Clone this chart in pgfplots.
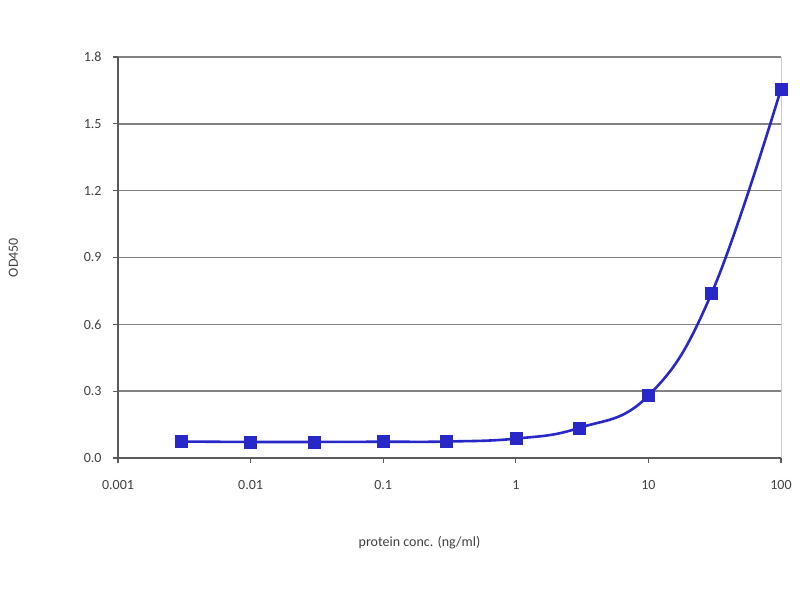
\documentclass[border=0pt]{standalone}
\usepackage{pgfplots}
\pgfplotsset{compat=1.18}
\usepackage{fontspec}
\setmainfont{Carlito}
\definecolor{ser}{RGB}{40,40,200}
\definecolor{gridc}{RGB}{130,130,130}
\definecolor{axc}{RGB}{90,90,90}
\begin{document}
\begin{tikzpicture}
\path[use as bounding box] (0,0) rectangle (800pt,600pt);
\begin{axis}[
  at={(118pt,142pt)}, anchor=south west,
  width=663pt, height=401pt, scale only axis,
  xmode=log, xmin=0.001, xmax=100,
  ymin=0, ymax=1.8,
  ytick={0,0.3,0.6,0.9,1.2,1.5,1.8},
  yticklabels={0.0,0.3,0.6,0.9,1.2,1.5,1.8},
  xtick={0.001,0.01,0.1,1,10,100},
  xticklabels={0.001,0.01,0.1,1,10,100},
  xminorticks=false,
  ymajorgrids, major grid style={gridc, line width=1.6pt},
  axis x line*=bottom, axis y line*=left,
  axis line style={axc, line width=1.6pt},
  tick style={axc, line width=1.2pt},
  tick align=outside, major tick length=5pt,
  ticklabel style={font=\fontsize{14}{16}\selectfont, text=black!75},
  xticklabel style={yshift=-14pt},
  yticklabel style={xshift=-8pt},
  /pgf/number format/assume math mode=true,
  xlabel={protein conc. (ng/ml)},
  ylabel={OD450},
  label style={font=\fontsize{14}{16}\selectfont, text=black!75},
  xlabel style={yshift=-40pt, xshift=-30pt},
  ylabel style={yshift=59pt},
  clip=false,
]
\draw[gray!40, line width=1pt] (axis cs:100,0) -- (axis cs:100,1.8);
\addplot[ser, line width=2.6pt, smooth, tension=0.7, mark=square*, mark size=6pt, mark options={fill=ser, draw=ser, line width=0.5pt}] coordinates {
(0.003,0.074) (0.01,0.072) (0.03,0.072) (0.1,0.073) (0.3,0.074) (1,0.087) (3,0.135) (10,0.28) (30,0.74) (100,1.656)
};
\end{axis}
\end{tikzpicture}
\end{document}
